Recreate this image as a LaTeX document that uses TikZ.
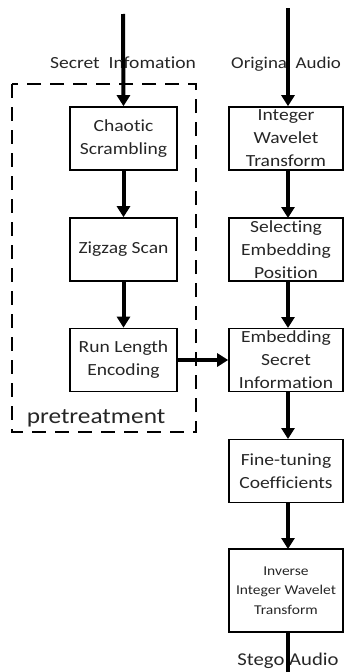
\documentclass[tikz,border=0pt]{standalone}
\usepackage{fontspec}
\setmainfont{Carlito}[FakeStretch=1.15,Ligatures=NoCommon]
\usetikzlibrary{arrows.meta}
\begin{document}
\begin{tikzpicture}[x=1pt,y=-1pt,
  box/.style={draw=black,line width=1.6pt,inner sep=0pt,align=center,text=black!85,font=\fontsize{17}{23}\selectfont},
  lbox/.style={box,minimum width=107pt,minimum height=63pt},
  rbox/.style={box,minimum width=114pt,minimum height=63pt},
  flow/.style={line width=4pt,-{Triangle[width=13pt,length=11pt]}},
  lbl/.style={text=black!85,font=\fontsize{17}{20}\selectfont,inner sep=0pt}]
\useasboundingbox (0,0) rectangle (344,672);
% dashed group
\draw[line width=1.8pt,dash pattern=on 14pt off 9pt] (12,84) rectangle (196,432);
\node[lbl,anchor=base] (sec) at (123,68) {Secret\ \ Infomation};
\node[lbl,anchor=base west,font=\fontsize{16.5}{20}\selectfont] (orig) at (231,68) {Original Audio};
\node[lbl,anchor=base,font=\fontsize{22}{24}\selectfont] (pre) at (96,423) {pretreatment};
% left column
\node[lbox] (cs) at (123.5,138.5) {Chaotic\\Scrambling};
\node[lbox] (zz) at (123.5,249.5) {Zigzag Scan};
\node[lbox] (rl) at (123.5,360) {Run Length\\Encoding};
% right column
\node[rbox] (iwt) at (286,138.5) {Integer\\Wavelet\\Transform};
\node[rbox] (sep) at (286,249.5) {Selecting\\Embedding\\Position};
\node[rbox] (esi) at (286,360) {Embedding\\Secret\\Information};
\node[rbox] (ftc) at (286,471) {Fine-tuning\\Coefficients};
\node[rbox,minimum height=83pt,font=\fontsize{13.5}{19.5}\selectfont] (iiwt) at (286,590.5) {Inverse\\Integer Wavelet\\Transform};
\node[lbl,anchor=base,font=\fontsize{18}{20}\selectfont] (stego) at (288,665) {Stego Audio};
% connectors
\coordinate (ls) at (123,14);
\coordinate (rs) at (288,8);
\coordinate (re) at (288,674);
\draw[flow] (ls) -- (cs.north);
\draw[flow] (rs) -- (rs |- iwt.north);
\draw[flow] (cs) -- (zz);
\draw[flow] (zz) -- (rl);
\draw[flow] (rl.east) -- (esi.west);
\draw[flow] (288,170) -- (288,218);
\draw[flow] (288,281) -- (288,328);
\draw[flow] (288,392) -- (288,439);
\draw[flow] (288,503) -- (288,549);
\draw[line width=4pt] (288,632) -- (re);
\end{tikzpicture}
\end{document}
